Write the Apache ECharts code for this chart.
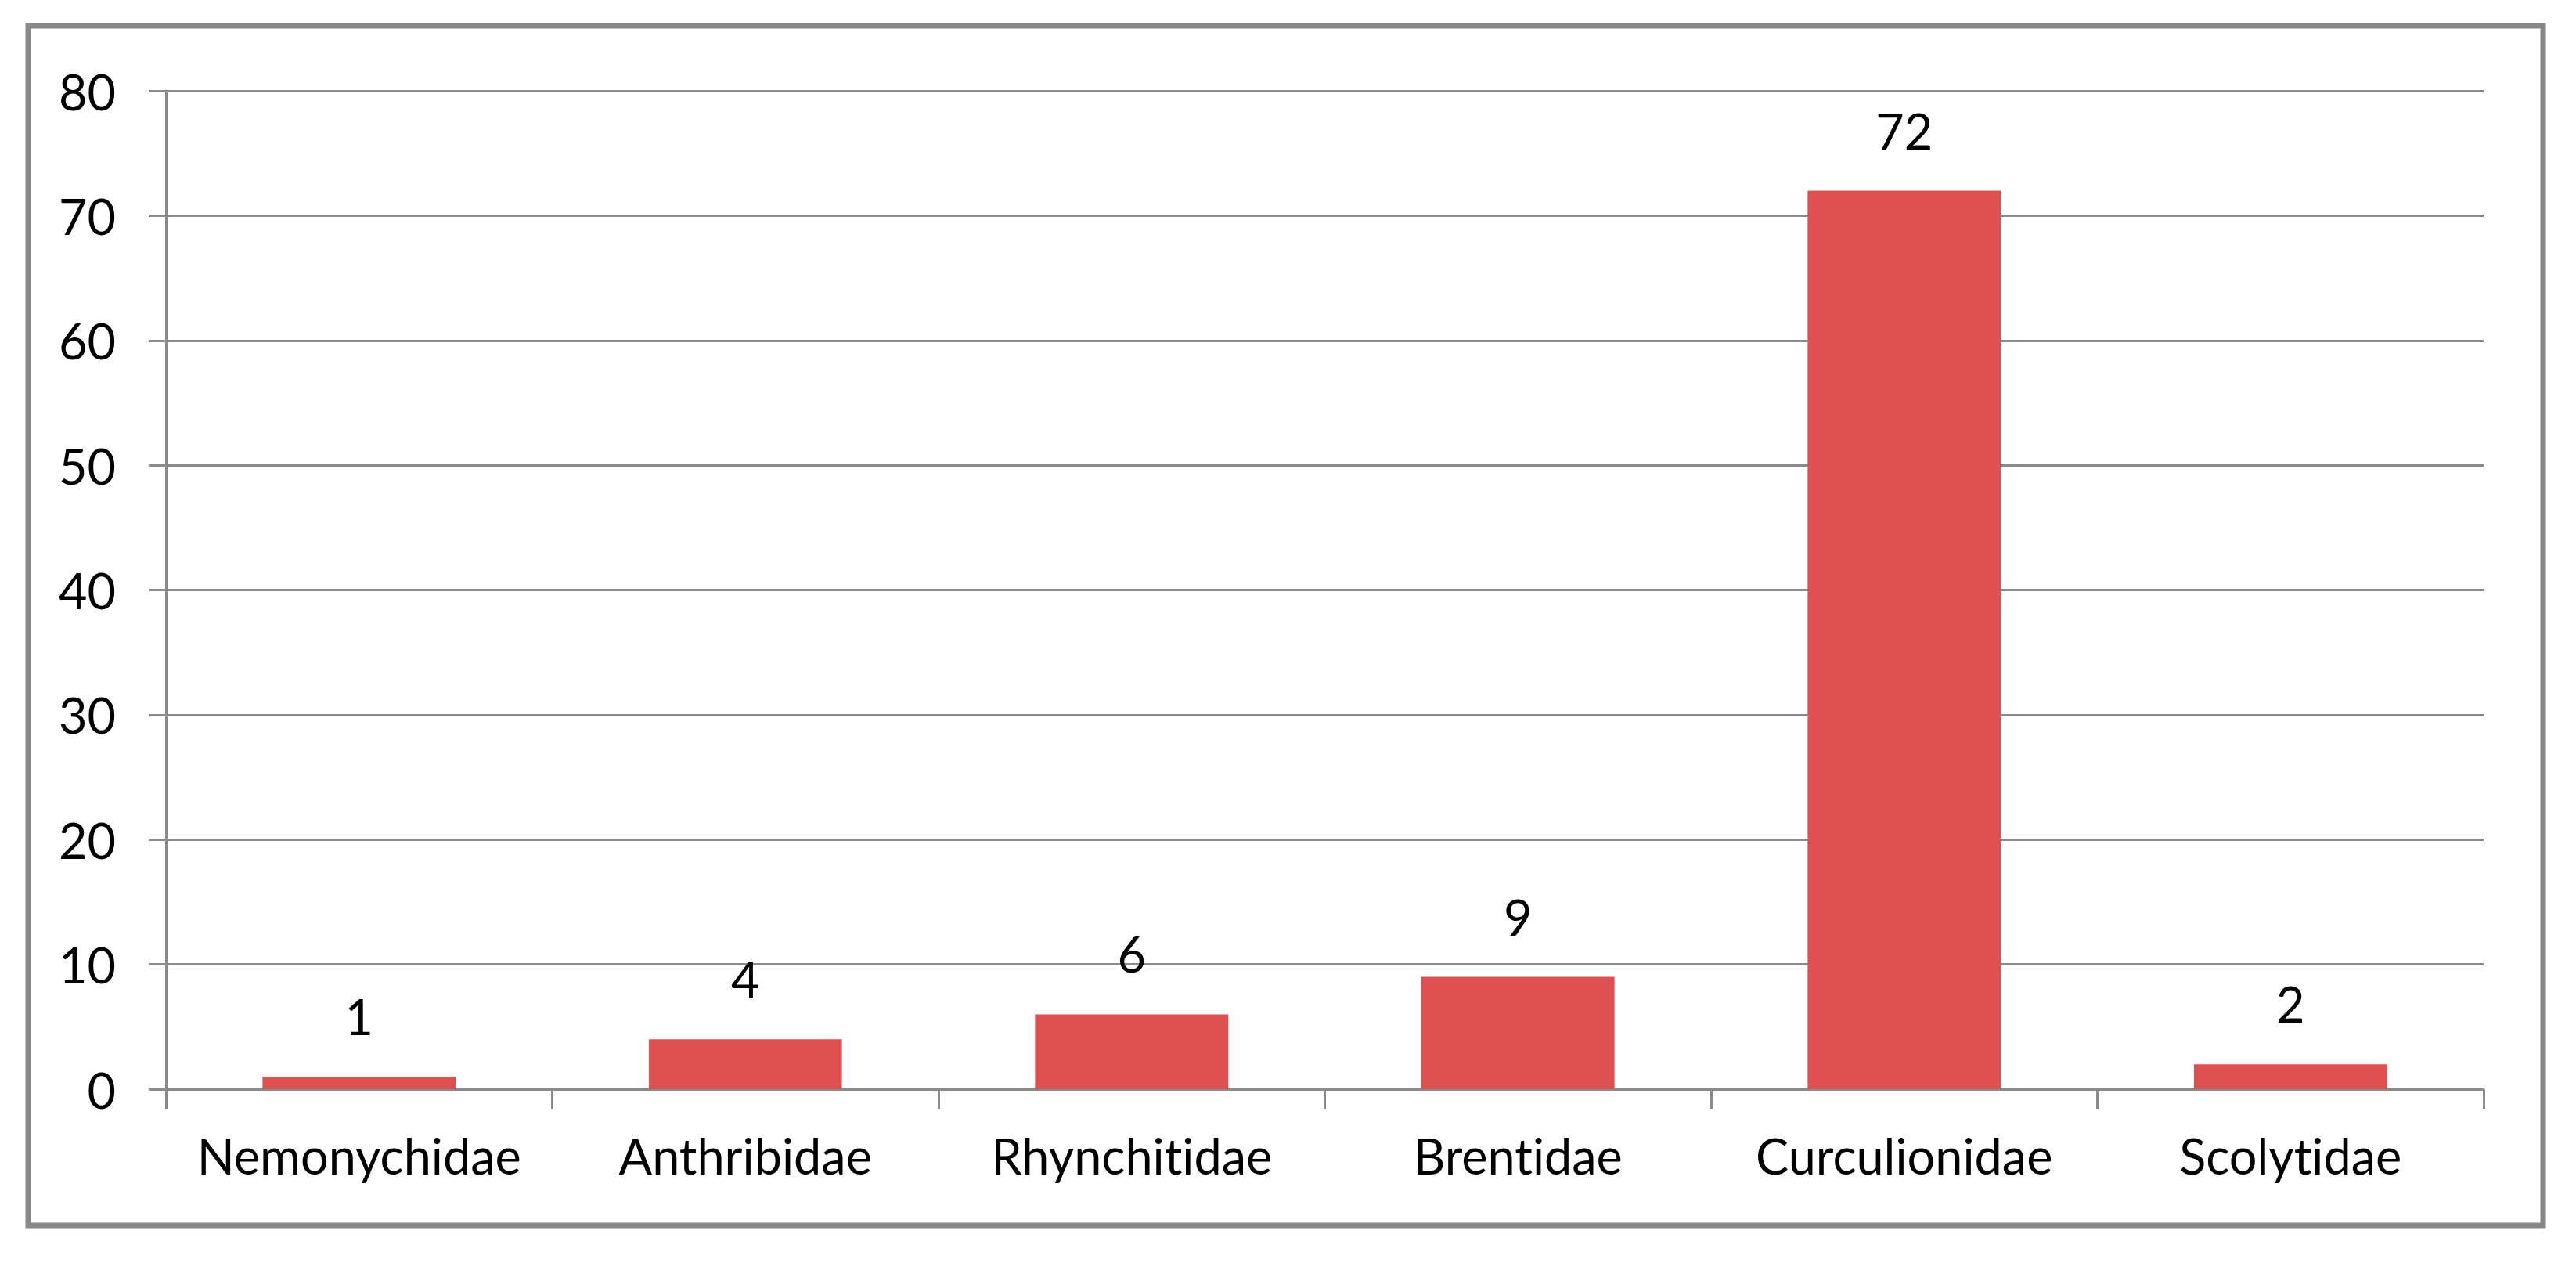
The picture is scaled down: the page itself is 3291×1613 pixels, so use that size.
<!DOCTYPE html>
<html>
<head>
<meta charset="utf-8">
<style>
  html, body { margin: 0; padding: 0; background: #ffffff; }
  #chart { width: 3291px; height: 1613px; }
  #chart text { font-variant-ligatures: none !important; font-feature-settings: "liga" 0, "clig" 0 !important; }
</style>
<script src="https://cdn.jsdelivr.net/npm/echarts@6/dist/echarts.min.js"></script>
</head>
<body>
<div id="chart"></div>
<script>
const categories = ['Nemonychidae', 'Anthribidae', 'Rhynchitidae', 'Brentidae', 'Curculionidae', 'Scolytidae'];
const speciesCounts = [1, 4, 6, 9, 72, 2];
const yTicks = { min: 0, max: 80, interval: 10 };

const chart = echarts.init(document.getElementById('chart'), null, { renderer: 'svg' });
const gray = '#8a8a8a';
const fontFamily = 'Lato, "Noto Sans", sans-serif';

chart.setOption({
  animation: false,
  backgroundColor: '#ffffff',
  graphic: [{
    type: 'rect',
    shape: { x: 36, y: 33, width: 3213, height: 1532 },
    style: { fill: 'none', stroke: '#888888', lineWidth: 7 },
    silent: true,
    z: -1
  }],
  grid: { left: 212, right: 118, top: 116, bottom: 222, containLabel: false },
  xAxis: {
    type: 'category',
    data: categories,
    boundaryGap: true,
    axisLine: { show: true, lineStyle: { color: gray, width: 3 } },
    axisTick: { show: true, length: 25, alignWithLabel: false, lineStyle: { color: gray, width: 3 } },
    axisLabel: { interval: 0, margin: 53, color: '#000000', fontSize: 63, fontFamily: fontFamily },
    splitLine: { show: false }
  },
  yAxis: {
    type: 'value',
    min: yTicks.min,
    max: yTicks.max,
    interval: yTicks.interval,
    axisLine: { show: true, lineStyle: { color: gray, width: 3 } },
    axisTick: { show: true, length: 22, inside: false, lineStyle: { color: gray, width: 3 } },
    axisLabel: { margin: 64, color: '#000000', fontSize: 63, fontFamily: fontFamily, padding: [0, 0, 22, 0] },
    splitLine: { show: true, lineStyle: { color: gray, width: 3 } }
  },
  series: [{
    type: 'bar',
    data: speciesCounts,
    barCategoryGap: '50%',
    itemStyle: { color: '#DE4F4F' },
    label: {
      show: true,
      position: 'top',
      distance: 46,
      color: '#000000',
      fontSize: 63,
      fontFamily: fontFamily
    }
  }]
});
</script>
</body>
</html>
